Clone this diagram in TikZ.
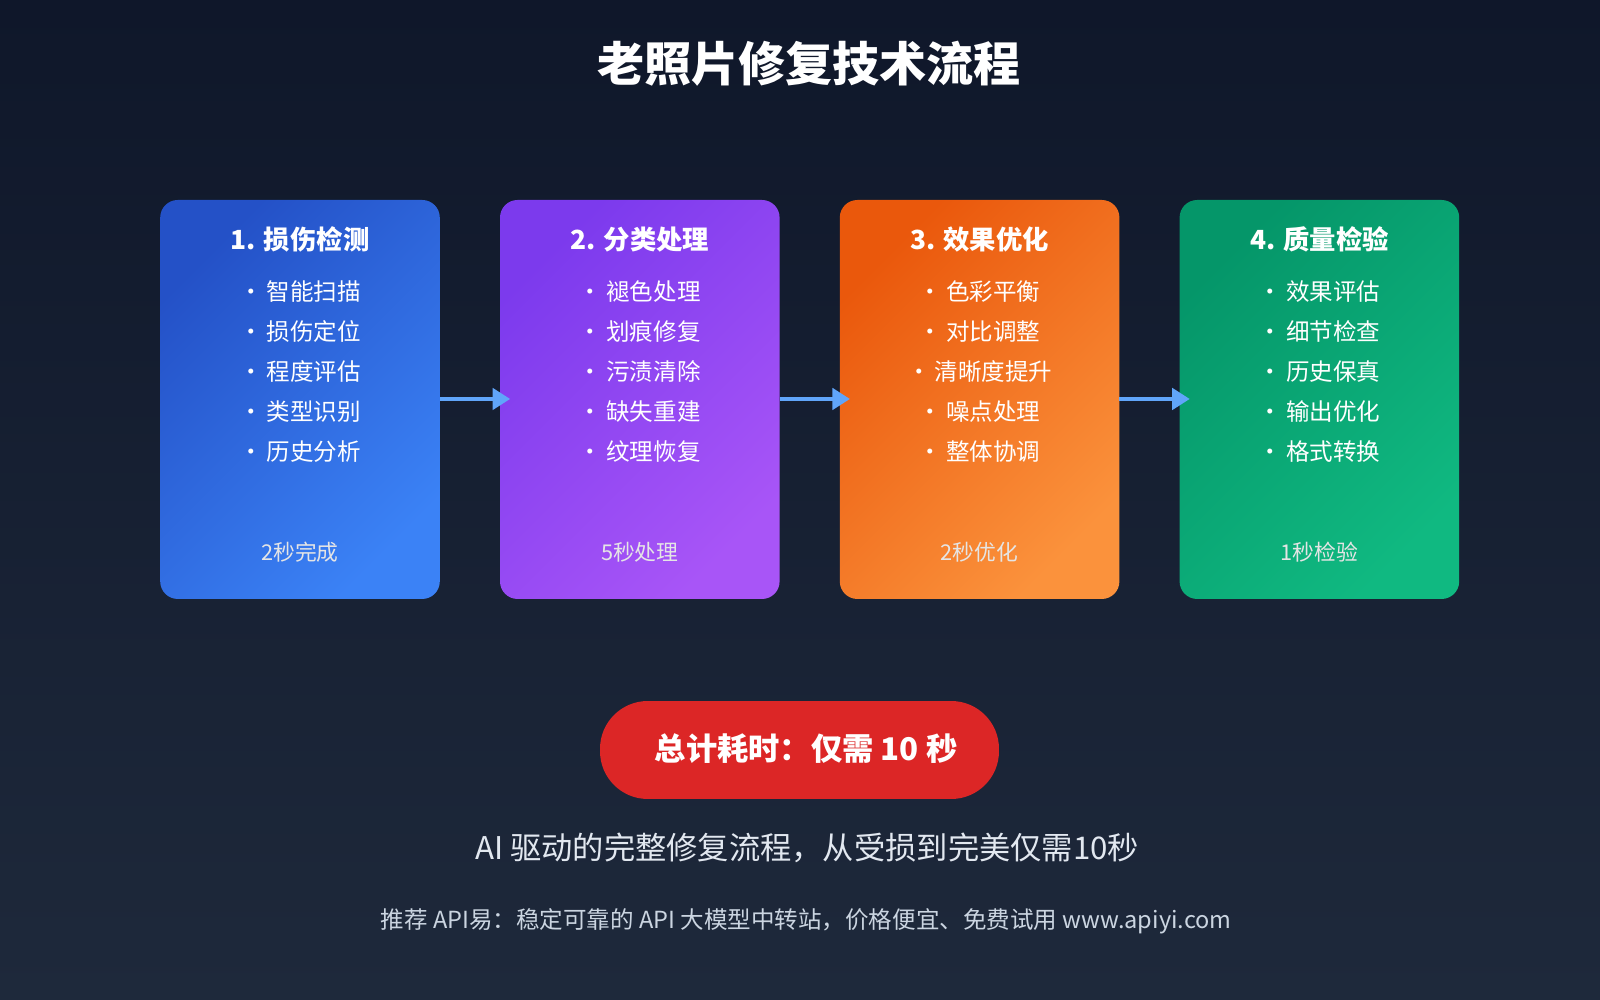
\documentclass[tikz,border=0pt]{standalone}
\usepackage{fontspec}
\setmainfont{Noto Sans CJK SC}
\usetikzlibrary{arrows.meta, calc}
\definecolor{bgtop}{HTML}{0F172A}
\definecolor{bgbot}{HTML}{1E293B}
\definecolor{arrowblue}{HTML}{60A5FA}
\definecolor{pillred}{HTML}{DC2626}
\definecolor{subgray}{HTML}{E2E8F0}
\definecolor{footgray}{HTML}{CBD5E1}
\definecolor{blueA}{HTML}{2451C7}
\definecolor{blueB}{HTML}{3B82F6}
\definecolor{purpleA}{HTML}{7C3AED}
\definecolor{purpleB}{HTML}{A855F7}
\definecolor{orangeA}{HTML}{EA580C}
\definecolor{orangeB}{HTML}{FB923C}
\definecolor{greenA}{HTML}{059669}
\definecolor{greenB}{HTML}{10B981}

\begin{document}
\begin{tikzpicture}[x=0.0102041cm,y=-0.0102041cm,%
    stage/.style 2 args={
      rounded corners=5pt,
      left color=#1,
      right color=#2,
      shading angle=45
    },
    flow/.style={
      draw=arrowblue,
      line width=1.2pt,
      -{Triangle[length=5pt,width=6pt]}
    },
    headtext/.style={text=white, font=\bfseries\fontsize{7.5}{9}\selectfont},
    itemtext/.style={text=white, font=\fontsize{6.7}{8}\selectfont},
    timetext/.style={text=white!90!black, font=\fontsize{6.2}{7}\selectfont}
    ]
    \shade[top color=bgtop, bottom color=bgbot] (0,0) rectangle (1568,980);
    \useasboundingbox (0,0) rectangle (1568,980);

    \node[text=white, font=\bfseries\fontsize{13.4}{16}\selectfont] (title) at (793,62) {老照片修复技术流程};

    \shade[stage={blueA}{blueB}] (157,196) rectangle (431,587);
    \shade[stage={purpleA}{purpleB}] (490,196) rectangle (764,587);
    \shade[stage={orangeA}{orangeB}] (823,196) rectangle (1097,587);
    \shade[stage={greenA}{greenB}] (1156,196) rectangle (1430,587);

    \node[headtext] (h1) at (294,235) {1. 损伤检测};
    \node[headtext] (h2) at (627,235) {2. 分类处理};
    \node[headtext] (h3) at (960,235) {3. 效果优化};
    \node[headtext] (h4) at (1293,235) {4. 质量检验};

    \foreach \t [count=\i] in {智能扫描,损伤定位,程度评估,类型识别,历史分析}
      \node[itemtext] (a\i) at (294,246+39.3*\i) {•\,\t};
    \foreach \t [count=\i] in {褪色处理,划痕修复,污渍清除,缺失重建,纹理恢复}
      \node[itemtext] (b\i) at (627,246+39.3*\i) {•\,\t};
    \foreach \t [count=\i] in {色彩平衡,对比调整,清晰度提升,噪点处理,整体协调}
      \node[itemtext] (c\i) at (960,246+39.3*\i) {•\,\t};
    \foreach \t [count=\i] in {效果评估,细节检查,历史保真,输出优化,格式转换}
      \node[itemtext] (d\i) at (1293,246+39.3*\i) {•\,\t};

    \node[timetext] (t1) at (294,541) {2秒完成};
    \node[timetext] (t2) at (627,541) {5秒处理};
    \node[timetext] (t3) at (960,541) {2秒优化};
    \node[timetext] (t4) at (1293,541) {1秒检验};

    \coordinate (r1) at (431,391);
    \coordinate (l2) at (500,391);
    \coordinate (r2) at (764,391);
    \coordinate (l3) at (833,391);
    \coordinate (r3) at (1097,391);
    \coordinate (l4) at (1166,391);
    \draw[flow] (r1) -- (l2);
    \draw[flow] (r2) -- (l3);
    \draw[flow] (r3) -- (l4);

    \fill[pillred, rounded corners=13.6pt] (588,687) rectangle (979,783);
    \node[text=white, font=\bfseries\fontsize{8.9}{10}\selectfont] (total) at (790,734) {总计耗时：仅需 10 秒};

    \node[text=subgray, font=\fontsize{8.9}{10}\selectfont] (sub) at (791,831) {AI 驱动的完整修复流程，从受损到完美仅需10秒};
    \node[text=footgray, font=\fontsize{6.7}{8}\selectfont] (foot) at (790,903) {推荐 API易：稳定可靠的 API 大模型中转站，价格便宜、免费试用 www.apiyi.com};
\end{tikzpicture}
\end{document}
